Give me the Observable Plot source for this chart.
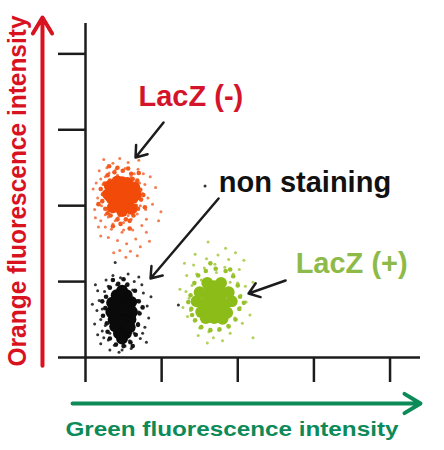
<!DOCTYPE html>
<html><head><meta charset="utf-8">
<script src="https://cdn.jsdelivr.net/npm/d3@7"></script>
<script src="https://cdn.jsdelivr.net/npm/@observablehq/plot@0.6"></script>
<style>body{margin:0;background:#fff}</style>
</head><body><div id="chart"></div>
<script>
// ---- data (axis units: green intensity x, orange intensity y) ----
const categories = ["LacZ (-)", "non staining", "LacZ (+)"];
const xTicks = [0, 10, 20, 30, 40];
const yTicks = [0, 10, 20, 30, 40];

const coreLacZneg = [[4.8,21.3],[3.8,22.4],[5.8,22.4],[3.4,21.0],[6.2,21.0],[4.2,20.0],[5.4,20.0],[4.8,23.1],[3.2,22.6],[6.4,22.4],[3.6,19.8],[6.0,19.6],[4.8,19.3],[4.1,21.6],[5.5,21.5],[3.0,21.5],[6.6,21.4],[4.2,23.2],[5.5,23.0],[4.8,22.2],[4.6,20.6]];
const midLacZneg = [[2.3,21.5],[2.5,22.9],[2.9,24.0],[3.8,24.4],[4.9,24.6],[6.0,24.2],[6.8,23.3],[7.2,22.1],[7.3,20.8],[6.9,19.6],[6.3,18.7],[5.3,18.2],[4.2,18.2],[3.3,18.7],[2.6,19.6],[2.2,20.6],[3.2,23.3],[6.2,23.5],[6.6,20.0],[2.9,19.0],[5.8,18.0],[4.6,17.6],[3.6,17.3],[5.8,17.0],[2.0,22.2],[7.6,21.4],[4.2,25.0],[5.6,24.9],[3.1,25.2],[7.0,24.3],[7.8,19.8],[1.7,20.2]];
const haloLacZneg = [[2.0,23.5],[2.4,21.8],[2.1,20.0],[2.6,18.8],[3.1,24.3],[4.0,24.8],[5.2,24.9],[6.4,24.2],[7.1,23.0],[7.5,21.6],[7.2,20.0],[6.8,18.9],[6.0,18.2],[5.0,17.8],[3.9,18.0],[3.0,18.5],[2.3,22.8],[2.8,25.0],[6.9,24.8],[7.8,22.8],[7.9,19.5],[2.0,18.0],[1.6,21.0],[1.4,23.0],[1.8,24.6],[3.6,25.6],[5.6,25.7],[8.2,21.0],[8.5,23.8],[7.4,17.4],[6.2,16.8],[4.8,16.5],[3.4,16.9],[2.6,17.2],[1.2,19.5],[1.0,22.2],[2.4,26.1],[4.5,26.2],[7.0,26.0],[8.8,20.2],[9.2,22.4],[8.0,16.5],[6.6,15.6],[5.4,15.0],[4.2,15.4],[3.0,15.8],[7.2,14.6],[5.9,14.0],[4.5,14.1],[8.4,15.3],[9.6,18.0],[3.7,13.8],[6.8,13.4],[2.0,16.0],[9.9,19.2],[3.8,23.6],[6.0,23.8],[3.0,19.4],[6.6,19.3],[2.7,20.9],[7.0,22.3],[4.4,18.6],[5.6,18.7],[4.2,24.0],[1.7,17.2],[2.6,23.8],[7.6,24.2],[8.0,18.2],[5.0,16.8],[3.6,17.6],[1.3,18.4],[5.3,13.2]];

const coreNonStain = [[4.8,5.5],[4.0,6.3],[5.6,6.3],[3.7,5.0],[5.9,5.0],[4.4,4.2],[5.3,4.2],[4.8,7.2],[3.5,7.2],[6.0,7.3],[3.4,6.0],[6.1,6.0],[4.4,3.2],[5.3,3.2],[4.1,8.2],[5.4,8.2],[4.8,2.5],[4.8,4.8],[4.8,6.4],[3.9,4.1],[5.8,4.0],[4.8,8.8]];
const midNonStain = [[2.6,6.5],[2.8,4.5],[2.7,8.0],[3.2,9.2],[4.3,9.7],[5.5,9.6],[6.5,8.8],[7.0,7.4],[7.1,5.8],[6.9,4.3],[6.6,3.0],[5.9,2.0],[5.0,1.5],[4.0,1.7],[3.2,2.5],[2.9,3.4],[2.3,5.5],[7.5,6.6],[6.2,1.5],[3.6,10.2],[5.0,10.3],[2.2,7.4]];
const haloNonStain = [[1.8,7.5],[2.0,5.0],[1.5,6.2],[2.2,3.5],[2.5,8.7],[3.0,9.4],[4.1,9.6],[5.3,9.5],[6.2,8.9],[6.8,7.5],[7.0,6.0],[6.9,4.5],[6.4,3.2],[5.8,2.2],[5.2,1.5],[3.8,1.6],[3.0,2.3],[2.4,2.6],[1.2,4.4],[0.9,7.0],[1.6,8.8],[2.7,10.2],[4.6,10.5],[6.4,10.0],[7.6,8.5],[8.1,6.8],[7.8,4.0],[7.2,2.5],[6.0,1.2],[4.4,0.7],[3.2,1.0],[2.0,1.8],[8.3,5.2],[7.4,9.6],[5.6,11.0],[3.6,10.8],[1.3,9.6],[2.2,6.4],[6.4,6.6],[6.0,4.0],[2.6,4.2],[3.2,3.2],[5.6,3.0],[4.8,1.0],[7.5,3.2],[1.6,3.0],[3.9,12.5],[12.2,6.9],[15.7,22.6],[8.6,8.0],[8.0,2.0],[7.0,10.6]];

const coreLacZpos = [[16.9,7.5],[15.9,8.4],[17.9,8.4],[15.5,7.0],[18.3,7.0],[16.3,6.2],[17.5,6.2],[16.9,9.4],[15.0,8.6],[18.8,8.6],[15.2,6.0],[18.6,5.9],[16.9,5.2],[16.0,9.8],[17.8,9.8],[16.9,8.4],[16.9,6.6],[14.6,7.4],[19.2,7.4],[15.8,5.2],[18.0,5.1],[16.0,7.4],[17.8,7.4]];
const midLacZpos = [[13.8,8.2],[13.9,6.4],[14.3,9.8],[14.4,4.9],[15.2,4.0],[16.4,3.6],[17.6,3.7],[18.8,4.1],[19.7,5.0],[20.2,6.4],[20.3,8.0],[20.0,9.5],[19.4,10.7],[18.4,11.4],[17.1,11.7],[15.8,11.4],[14.8,10.8],[13.5,7.3],[20.8,7.2],[14.0,5.6],[19.0,11.6],[16.4,12.4]];
const haloLacZpos = [[14.0,9.5],[13.6,7.8],[13.8,6.2],[14.3,4.8],[15.0,3.9],[16.2,3.4],[17.5,3.6],[18.7,4.2],[19.6,5.2],[20.3,6.6],[20.4,8.2],[20.0,9.8],[19.4,11.0],[18.3,11.9],[17.0,12.3],[15.6,11.8],[14.6,11.0],[13.2,8.7],[13.4,5.4],[14.8,2.9],[16.8,2.6],[19.0,3.2],[20.6,4.5],[21.1,7.3],[21.0,9.4],[20.2,11.6],[18.8,12.9],[17.4,13.5],[15.9,13.0],[14.2,12.2],[13.3,10.8],[12.8,6.6],[14.6,8.2],[19.2,7.8],[16.0,4.8],[18.1,4.9],[15.2,10.2],[19.0,9.9],[17.2,11.2],[14.9,5.8],[21.6,5.6],[18.0,2.2],[16.0,1.9],[20.8,12.8],[22.0,9.9],[13.0,12.4],[12.4,9.0],[19.7,13.8],[22.0,2.6],[16.1,15.2],[14.4,13.6],[18.4,14.4]];

const groupColors = ["#f24a08", "#0a0a0a", "#8cbc18"];
const midColors = ["#f25a1e", "#151515", "#98c22c"];
const haloColors = ["#f2703e", "#1e1e1e", "#a8cb4a"];

// ---- annotations ----
const axisTitles = ["Orange fluorescence intensity", "Green fluorescence intensity"];
const axisTitleLengths = [351, 333];

const toRows = (sets) => sets.flatMap((pts, g) => pts.map(([x, y]) => ({x, y, group: categories[g]})));
const coreRows = toRows([coreLacZneg, coreNonStain, coreLacZpos]);
const midRows = toRows([midLacZneg, midNonStain, midLacZpos]);
const haloRows = toRows([haloLacZneg, haloNonStain, haloLacZpos]);

const lookup = (cols) => Object.fromEntries(categories.map((c, i) => [c, cols[i]]));
const colorOf = lookup(groupColors), midOf = lookup(midColors), haloOf = lookup(haloColors);

const red = "#d9121f", green = "#0c8a58", ink = "#1c1c1c";

const axisArrows = [
  {x1: -5.65, y1: -1.1, x2: -5.65, y2: 44.8, c: red},
  {x1: -1.7, y1: -6.06, x2: 44.0, y2: -6.06, c: green}
];
const pointerArrows = [
  {x1: 10.25, y1: 30.96, x2: 6.57, y2: 26.35},
  {x1: 17.48, y1: 20.95, x2: 8.54, y2: 10.41},
  {x1: 26.28, y1: 10.14, x2: 21.42, y2: 8.43}
];
const groupLabels = [
  {t: categories[0], x: 6.96, y: 34.3, c: "#d4142a"},
  {t: categories[1], x: 17.5, y: 23.0, c: "#111111"},
  {t: categories[2], x: 27.6, y: 12.4, c: "#8dba48"}
];
const titleRows = [
  {t: axisTitles[0], x: -8.9, y: 21.94, c: red, rot: -90, fs: 25},
  {t: axisTitles[1], x: 19.24, y: -9.5, c: green, rot: 0, fs: 20}
];

const chart = Plot.plot({
  width: 444,
  height: 450,
  marginLeft: 85,
  marginRight: 24,
  marginTop: 23,
  marginBottom: 93,
  style: {fontFamily: "'Liberation Sans', Arial, sans-serif", background: "#fff"},
  x: {domain: [0, 44]},
  y: {domain: [0, 44]},
  marks: [
    Plot.axisX({ticks: xTicks, tickSize: 25, tickFormat: () => "", label: null, stroke: ink, strokeWidth: 2.5}),
    Plot.axisY({ticks: yTicks, tickSize: 27, tickFormat: () => "", label: null, stroke: ink, strokeWidth: 2.5}),
    Plot.ruleX([0], {stroke: ink, strokeWidth: 2.5}),
    Plot.ruleY([0], {stroke: ink, strokeWidth: 2.5}),
    Plot.dot(haloRows, {x: "x", y: "y", r: 1.5, fill: d => haloOf[d.group], stroke: null, fillOpacity: 0.9}),
    Plot.dot(midRows, {x: "x", y: "y", r: 2.3, fill: d => midOf[d.group], stroke: null}),
    Plot.dot(coreRows, {x: "x", y: "y", r: 6, fill: d => colorOf[d.group], stroke: null}),
    Plot.arrow(axisArrows, {x1: "x1", y1: "y1", x2: "x2", y2: "y2", stroke: d => d.c, strokeWidth: 4, headLength: 7, headAngle: 62}),
    Plot.arrow(pointerArrows, {x1: "x1", y1: "y1", x2: "x2", y2: "y2", stroke: ink, strokeWidth: 2.5, headLength: 7.5, headAngle: 72}),
    Plot.text(groupLabels, {x: "x", y: "y", text: "t", fill: d => d.c, fontSize: 29, fontWeight: "bold", textAnchor: "start", lineAnchor: "middle"}),
    Plot.text(titleRows, {x: "x", y: "y", text: "t", fill: d => d.c, fontSize: d => d.fs, rotate: d => d.rot, fontWeight: "bold", textAnchor: "middle", lineAnchor: "middle"})
  ]
});

document.getElementById("chart").appendChild(chart);
d3.select(chart).selectAll("text").each(function () {
  const i = axisTitles.indexOf(this.textContent);
  if (i >= 0) d3.select(this).attr("textLength", axisTitleLengths[i]).attr("lengthAdjust", "spacingAndGlyphs");
});
</script>
</body></html>
